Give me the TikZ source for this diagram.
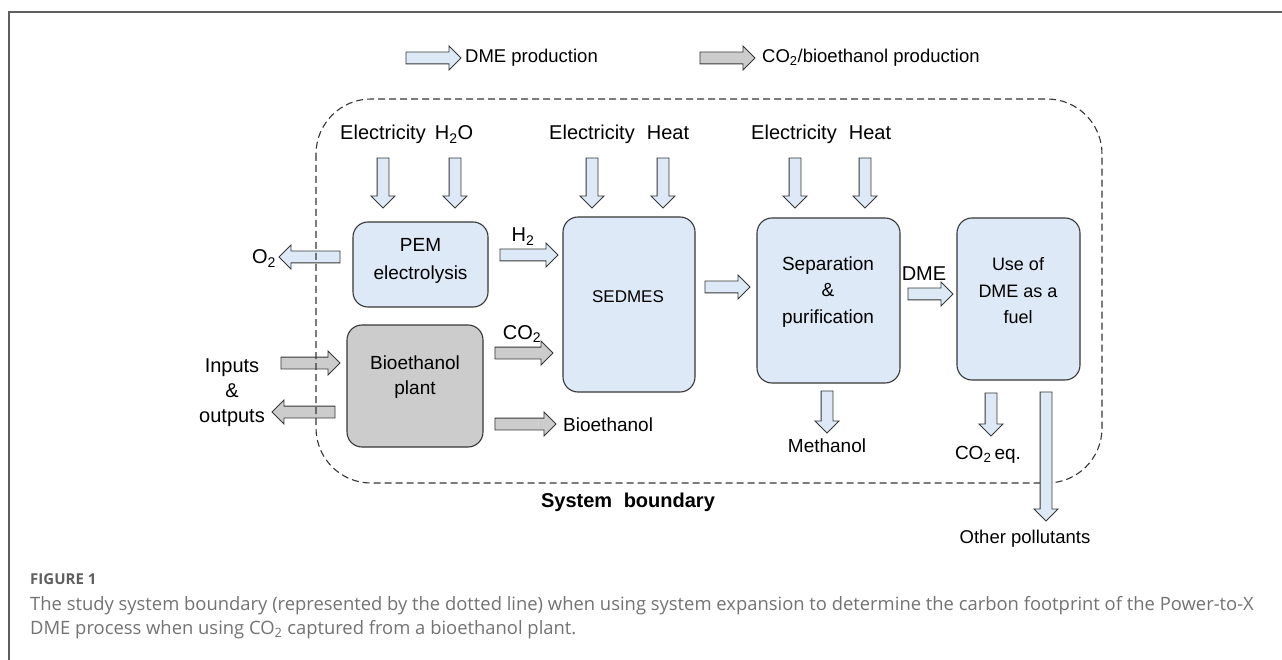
\documentclass[tikz,border=0pt]{standalone}
\usepackage{fontspec}
\setmainfont{Liberation Sans}
\newfontfamily\capfont{Open Sans}
\usetikzlibrary{shapes.arrows}
\definecolor{lb}{RGB}{221,233,246}
\definecolor{gr}{RGB}{205,204,204}
\definecolor{edge}{RGB}{55,55,55}
\definecolor{framec}{RGB}{95,95,95}
\definecolor{captxt}{RGB}{115,115,115}
\begin{document}
\begin{tikzpicture}[x=1pt,y=-1pt,
  box/.style={draw=edge, line width=1.1pt, rounded corners=15pt, inner sep=0pt},
  lbbox/.style={box, fill=lb},
  grbox/.style={box, fill=gr},
  barrow/.style={single arrow, draw=edge, line width=0.9pt, minimum width=23pt,
    single arrow head extend=6pt, single arrow head indent=0pt,
    inner xsep=0pt, inner ysep=5.5pt,
    text height=0pt, text depth=0pt, minimum height=#1},
  lbarr/.style={barrow=#1, fill=lb},
  grarr/.style={barrow=#1, fill=gr},
  lab/.style={inner sep=0pt, anchor=base, font=\fontsize{20}{24}\selectfont},
  boxtext/.style={inner sep=0pt, align=center, font=\fontsize{19}{26.5}\selectfont},
  boundary/.style={draw=edge, line width=1.1pt, dash pattern=on 7pt off 4pt, rounded corners=55pt}
]
\useasboundingbox (0,0) rectangle (1282,660);
\fill[white] (0,0) rectangle (1282,660);
% frame
\draw[framec, line width=1.6pt] (1282,12) -- (9,12) -- (9,660);

% legend
\node[lbarr=55pt] (legA) at (430.5,58) {};
\node[inner sep=0pt, anchor=west, font=\fontsize{18.5}{22}\selectfont] (legAt) at (465,58) {DME production};
\node[grarr=55pt] (legB) at (724.5,58) {};
\node[inner sep=0pt, anchor=west, font=\fontsize{18.5}{22}\selectfont] (legBt) at (762,58) {CO\textsubscript{2}/bioethanol production};

% arrows crossing the left boundary (boundary drawn over them)
\node[lbarr=61pt, rotate=180] (aO2) at (312.5,257) {};
\node[grarr=59pt] (aIn) at (307.5,363) {};
\node[grarr=63pt, rotate=180] (aOut) at (306.5,412) {};

% system boundary
\draw[boundary] (316,99) rectangle (1102,483);

% process boxes
\node[lbbox, minimum width=135pt, minimum height=85pt] (pem) at (420.5,264.5) {};
\node[lbbox, minimum width=132pt, minimum height=175pt] (sed) at (629,304.5) {};
\node[lbbox, minimum width=143pt, minimum height=165pt] (sep) at (828.5,300.5) {};
\node[lbbox, minimum width=123pt, minimum height=162pt] (fuel) at (1018.5,299) {};
\node[grbox, minimum width=136pt, minimum height=122pt] (bio) at (415,386) {};

\node[boxtext, font=\fontsize{19}{28}\selectfont] (pemT) at (420.5,261) {PEM\\electrolysis};
\node[boxtext, font=\fontsize{17}{20}\selectfont] (sedT) at (628,297) {SEDMES};
\node[boxtext] (sepT) at (828,292) {Separation\\\&\\purification};
\node[boxtext, font=\fontsize{18}{26.5}\selectfont] (fuelT) at (1018,291) {Use of\\DME as a\\fuel};
\node[boxtext, font=\fontsize{19}{25}\selectfont] (bioT) at (415,377.5) {Bioethanol\\plant};

% top inputs
\node[lab] (e1) at (383,140) {Electricity};
\node[lab] (w1) at (454,140) {H\textsubscript{2}O};
\node[lab] (e2) at (592,140) {Electricity};
\node[lab] (q2) at (668,140) {Heat};
\node[lab] (e3) at (794,140) {Electricity};
\node[lab] (q3) at (870,140) {Heat};

\node[lbarr=50pt, rotate=-90] (de1) at (383,180) {};
\node[lbarr=50pt, rotate=-90] (dw1) at (455,180) {};
\node[lbarr=50pt, rotate=-90] (de2) at (592,180) {};
\node[lbarr=50pt, rotate=-90] (dq2) at (663,180) {};
\node[lbarr=50pt, rotate=-90] (de3) at (795,180) {};
\node[lbarr=50pt, rotate=-90] (dq3) at (865,180) {};

% side flows
\node[lab] (o2) at (264,264) {O\textsubscript{2}};
\node[lbarr=58pt] (aH2) at (526,255) {};
\node[lab] (h2) at (523,242) {H\textsubscript{2}};
\node[grarr=58pt] (aCO2) at (521,353) {};
\node[lab] (co2) at (522,339) {CO\textsubscript{2}};
\node[grarr=61pt] (aBio) at (522.5,424) {};
\node[lab, anchor=base west, font=\fontsize{19}{23}\selectfont] (bioL) at (563,431) {Bioethanol};
\node[lab] (inL) at (232,372) {Inputs};
\node[lab] (ampL) at (232,397) {\&};
\node[lab] (outL) at (232,422) {outputs};

\node[lbarr=45pt] (aMid) at (724.5,287) {};
\node[lbarr=45pt] (aDME) at (927.5,294) {};
\node[lab] (dmeL) at (924,280) {DME};

\node[lbarr=42pt, rotate=-90] (aMeth) at (827,409) {};
\node[lab, font=\fontsize{19}{23}\selectfont] (methL) at (827,452) {Methanol};
\node[lbarr=43pt, rotate=-90] (aCO2eq) at (991,411.5) {};
\node[lab, font=\fontsize{19}{23}\selectfont] (co2eqL) at (988,459) {CO\textsubscript{2}\,eq.};
\node[lbarr=129pt, rotate=-90] (aOther) at (1046,453.5) {};
\node[lab, font=\fontsize{18.5}{23}\selectfont] (otherL) at (1025,543) {Other pollutants};

\node[lab, font=\bfseries\fontsize{20}{24}\selectfont] (sysL) at (628,507) {System\hspace{6pt} boundary};

% caption
\node[inner sep=0pt, anchor=base west, font=\capfont\bfseries\fontsize{15}{17}\selectfont, text=framec] (figL) at (30,584) {FIGURE 1};
\node[inner sep=0pt, anchor=base west, font=\capfont\fontsize{18.4}{24}\selectfont, text=captxt] (capL1) at (30,610) {The study system boundary (represented by the dotted line) when using system expansion to determine the carbon footprint of the Power-to-X};
\node[inner sep=0pt, anchor=base west, font=\capfont\fontsize{18.4}{24}\selectfont, text=captxt] (capL2) at (30,634) {DME process when using CO\textsubscript{2} captured from a bioethanol plant.};
\end{tikzpicture}
\end{document}
